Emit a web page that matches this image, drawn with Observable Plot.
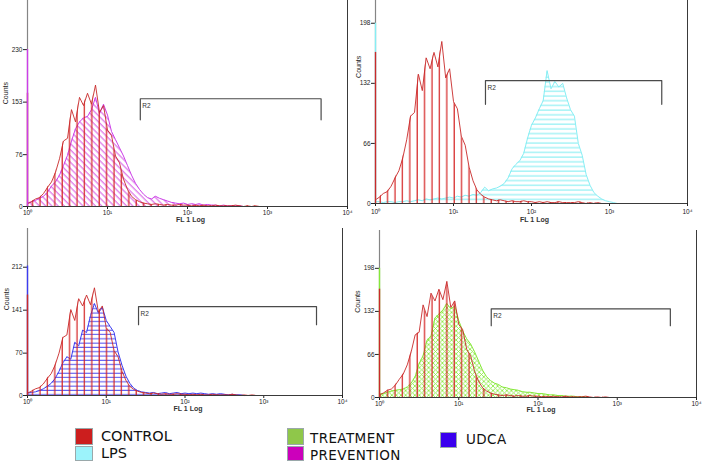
<!DOCTYPE html>
<html><head><meta charset="utf-8">
<script src="https://cdn.jsdelivr.net/npm/d3@7"></script>
<script src="https://cdn.jsdelivr.net/npm/@observablehq/plot@0.6"></script>
<style>
body{margin:0;background:#fff;width:705px;height:463px;position:relative;overflow:hidden;font-family:"Liberation Sans",Arial,sans-serif}
.sw{position:absolute;box-sizing:border-box;border:1px solid #9aa8aa}
.lt{position:absolute;font-family:"DejaVu Sans",sans-serif;color:#111;line-height:1;white-space:nowrap}
</style></head><body>
<svg width="0" height="0" style="position:absolute;left:0;top:0">
<defs>
<pattern id="hatch-control" patternUnits="userSpaceOnUse" width="7.4" height="10"><line x1="3" y1="0" x2="3" y2="10" stroke="#d42020" stroke-width="1.2"/></pattern>
<pattern id="hatch-prevention" patternUnits="userSpaceOnUse" width="4.4" height="10" patternTransform="rotate(-45)"><line x1="1" y1="0" x2="1" y2="10" stroke="#d040e0" stroke-width="0.9"/></pattern>
<pattern id="hatch-lps" patternUnits="userSpaceOnUse" width="10" height="4.7"><line x1="0" y1="2" x2="10" y2="2" stroke="#86eef2" stroke-width="1.1"/></pattern>
<pattern id="hatch-udca" patternUnits="userSpaceOnUse" width="10" height="4.3"><line x1="0" y1="2" x2="10" y2="2" stroke="#4a4af0" stroke-width="1"/></pattern>
<pattern id="hatch-treatment" patternUnits="userSpaceOnUse" width="4.6" height="4.6"><path d="M0,0L4.6,4.6M4.6,0L0,4.6" stroke="#90ec4a" stroke-width="0.9" fill="none"/></pattern>
</defs></svg>
<script>
// ---- data (counts per log channel, step of 0.05 decade starting at 10^0) ----
const control    = [4,7,11,13,19,28,36,50,70,96,100,142,124,160,148,166,150,178,138,148,112,104,74,64,40,25,15,10,7,5,4,3,4,3,2,3,2,2,3,2,2,1,2,1,2,1,1,2,1,1,1,1,2,1,0,1,0,1,0,0,0];
const prevention = [5,7,9,12,15,21,30,36,46,60,75,96,114,124,130,132,142,160,136,150,134,110,98,86,74,60,46,34,25,18,13,11,15,12,10,8,6,5,4,5,3,4,3,4,2,3,2,2,1,2,1,1,1,1,0];
const lps        = [2,2,1,2,2,1,2,2,3,2,3,4,3,5,4,5,6,5,6,7,6,8,7,9,8,10,9,12,18,14,16,17,19,22,28,38,43,47,55,72,86,94,104,113,146,126,134,128,132,116,103,96,66,53,32,20,12,8,5,3,2,1,0];
const udca       = [4,5,6,8,11,15,20,28,40,54,64,60,88,82,108,104,132,152,136,146,124,114,104,72,50,32,20,12,8,6,5,4,5,3,4,5,3,4,5,3,4,3,4,3,4,3,2,3,2,3,2,1,2,1,1,0];
const treatment  = [5,6,8,10,11,12,13,16,22,32,52,64,88,94,122,128,134,144,136,140,118,102,90,82,70,56,42,32,26,22,20,16,15,13,12,11,9,8,8,7,6,6,5,4,4,3,3,2,2,2,1,1,1,0];
// first-channel (10^0) pile-up counts
const spikeControl = 166, spikePrevention = 230, spikeLps = 198, spikeUdca = 214, spikeTreatment = 198;
// axis ticks
const xTicks = [1, 10, 100, 1000, 10000];
const yTicks1 = [0, 76, 153, 230];
const yTicks2 = [0, 66, 132, 198];
const yTicks3 = [0, 70, 141, 212];
const yTicks4 = [0, 66, 132, 198];
// R2 gate (FL1 range) and bracket heights per panel
const gateRange = [25.7, 4677];
const gateTop = [158, 135, 147, 136];
const gateBottom = [127, 109, 117, 110];
// legend
const legendLabels = ["CONTROL", "LPS", "TREATMENT", "PREVENTION", "UDCA"];
const legendColors = ["#cc1e1e", "#9cf3fb", "#8fc74a", "#cc00bb", "#3a00ee"];

const COL = {control:"#c92a2a", prevention:"#cc3ee8", lps:"#86eef4", udca:"#3c3cf0", treatment:"#86e83a"};
const L_STEP = 0.05;
const rows = vals => vals.map((c, i) => ({x: 10 ** (i * L_STEP), c}));
const sup = ["\u2070", "\u00b9", "\u00b2", "\u00b3", "\u2074"];

function panel(cfg) {
  const ctrl = rows(control), oth = rows(cfg.values);
  const gate = [
    {x: gateRange[0], y: gateBottom[cfg.i]}, {x: gateRange[0], y: gateTop[cfg.i]},
    {x: gateRange[1], y: gateTop[cfg.i]}, {x: gateRange[1], y: gateBottom[cfg.i]}
  ];
  const spikeO = Plot.ruleX([{x: 1, y: cfg.spike}], {x: "x", y1: 0, y2: "y", stroke: cfg.color, strokeWidth: 1.4});
  const spikeC = Plot.ruleX([{x: 1, y: spikeControl}], {x: "x", y1: 0, y2: "y", stroke: COL.control, strokeWidth: 1.4});
  const svg = Plot.plot({
    width: cfg.w, height: cfg.h,
    marginLeft: cfg.mL, marginRight: cfg.mR, marginTop: cfg.mT, marginBottom: cfg.mB,
    x: {type: "log", domain: [1, 10000], ticks: xTicks, tickFormat: d => "10" + sup[Math.round(Math.log10(d))], tickSize: 3, tickPadding: cfg.xPad, label: null},
    y: {domain: [0, cfg.yMax], ticks: cfg.yTicks, tickSize: 4, tickPadding: 1, label: null},
    style: {fontFamily: "Liberation Sans, Arial, sans-serif", fontSize: "6.5px", color: "#222", background: "transparent", overflow: "visible"},
    marks: [
      Plot.areaY(oth, {x: "x", y: "c", fill: `url(#${cfg.pattern})`}),
      Plot.lineY(oth, {x: "x", y: "c", stroke: cfg.color, strokeWidth: 1}),
      Plot.areaY(ctrl, {x: "x", y: "c", fill: "url(#hatch-control)"}),
      Plot.lineY(ctrl, {x: "x", y: "c", stroke: COL.control, strokeWidth: 1, strokeOpacity: 0.9}),
      Plot.ruleX([1], {stroke: "#858585", strokeWidth: 1.2}),
      Plot.ruleX([10000], {stroke: "#3a3a3a", strokeWidth: 1}),
      Plot.ruleY([0], {stroke: "#3a3a3a", strokeWidth: 1}),
      ...(cfg.otherOnTop ? [spikeC, spikeO] : [spikeO, spikeC]),
      Plot.line(gate, {x: "x", y: "y", stroke: "#4a4a4a", strokeWidth: 1.2}),
      Plot.text([{t: "R2", x: gateRange[0], y: gateTop[cfg.i]}], {x: "x", y: "y", text: "t", textAnchor: "start", dx: 2, dy: 7, fontSize: 6.5, fill: "#333"}),
      Plot.text([{t: "Counts", y: cfg.countsY}], {y: "y", text: "t", frameAnchor: "left", dx: cfg.countsDx, rotate: -90, fontSize: 7, fill: "#222"}),
      Plot.text([{t: "FL 1 Log"}], {text: "t", frameAnchor: "bottom", dy: cfg.flDy, dx: 3, fontSize: 7, fontWeight: "bold", fill: "#333"})
    ]
  });
  svg.style.position = "absolute";
  svg.style.left = cfg.left + "px";
  svg.style.top = cfg.top + "px";
  document.body.appendChild(svg);
}

panel({i: 0, left: 0, top: 0, w: 355, h: 225, mL: 27, mR: 8, mT: 0, mB: 19, yMax: 302, yTicks: yTicks1,
  values: prevention, color: COL.prevention, pattern: "hatch-prevention", spike: spikePrevention, otherOnTop: true,
  countsY: 150, countsDx: -22, flDy: 15, xPad: 1});
panel({i: 1, left: 355, top: 0, w: 350, h: 225, mL: 20, mR: 18, mT: 0, mB: 22, yMax: 223, yTicks: yTicks2,
  values: lps, color: COL.lps, pattern: "hatch-lps", spike: spikeLps, otherOnTop: false,
  countsY: 138, countsDx: -17, flDy: 18, xPad: 3});
panel({i: 2, left: 0, top: 225, w: 355, h: 200, mL: 27, mR: 13, mT: 3, mB: 30, yMax: 276, yTicks: yTicks3,
  values: udca, color: COL.udca, pattern: "hatch-udca", spike: spikeUdca, otherOnTop: false,
  countsY: 141, countsDx: -21, flDy: 15.5, xPad: 1});
panel({i: 3, left: 355, top: 225, w: 350, h: 200, mL: 24, mR: 9, mT: 5, mB: 28, yMax: 256, yTicks: yTicks4,
  values: treatment, color: COL.treatment, pattern: "hatch-treatment", spike: spikeTreatment, otherOnTop: false,
  countsY: 130, countsDx: -22, flDy: 14.5, xPad: 1});

// legend (HTML below the panels)
const legLayout = [
  {sx: 75, sy: 428, sw: 18, sh: 17, tx: 101, ty: 429, fs: 14.5},
  {sx: 75, sy: 446, sw: 18, sh: 15, tx: 101, ty: 445.5, fs: 14.5},
  {sx: 287, sy: 428, sw: 17, sh: 17, tx: 310, ty: 432, fs: 13.5},
  {sx: 287, sy: 446, sw: 17, sh: 15, tx: 310, ty: 448.5, fs: 13.5},
  {sx: 440, sy: 432, sw: 17, sh: 16, tx: 466, ty: 433, fs: 13.5}
];
legendLabels.forEach((lab, k) => {
  const p = legLayout[k];
  const s = document.createElement("div");
  s.className = "sw";
  Object.assign(s.style, {left: p.sx + "px", top: p.sy + "px", width: p.sw + "px", height: p.sh + "px", background: legendColors[k]});
  document.body.appendChild(s);
  const t = document.createElement("div");
  t.className = "lt";
  t.textContent = lab;
  Object.assign(t.style, {left: p.tx + "px", top: p.ty + "px", fontSize: p.fs + "px", letterSpacing: k >= 2 ? "0.4px" : "0"});
  document.body.appendChild(t);
});
</script>
</body></html>
